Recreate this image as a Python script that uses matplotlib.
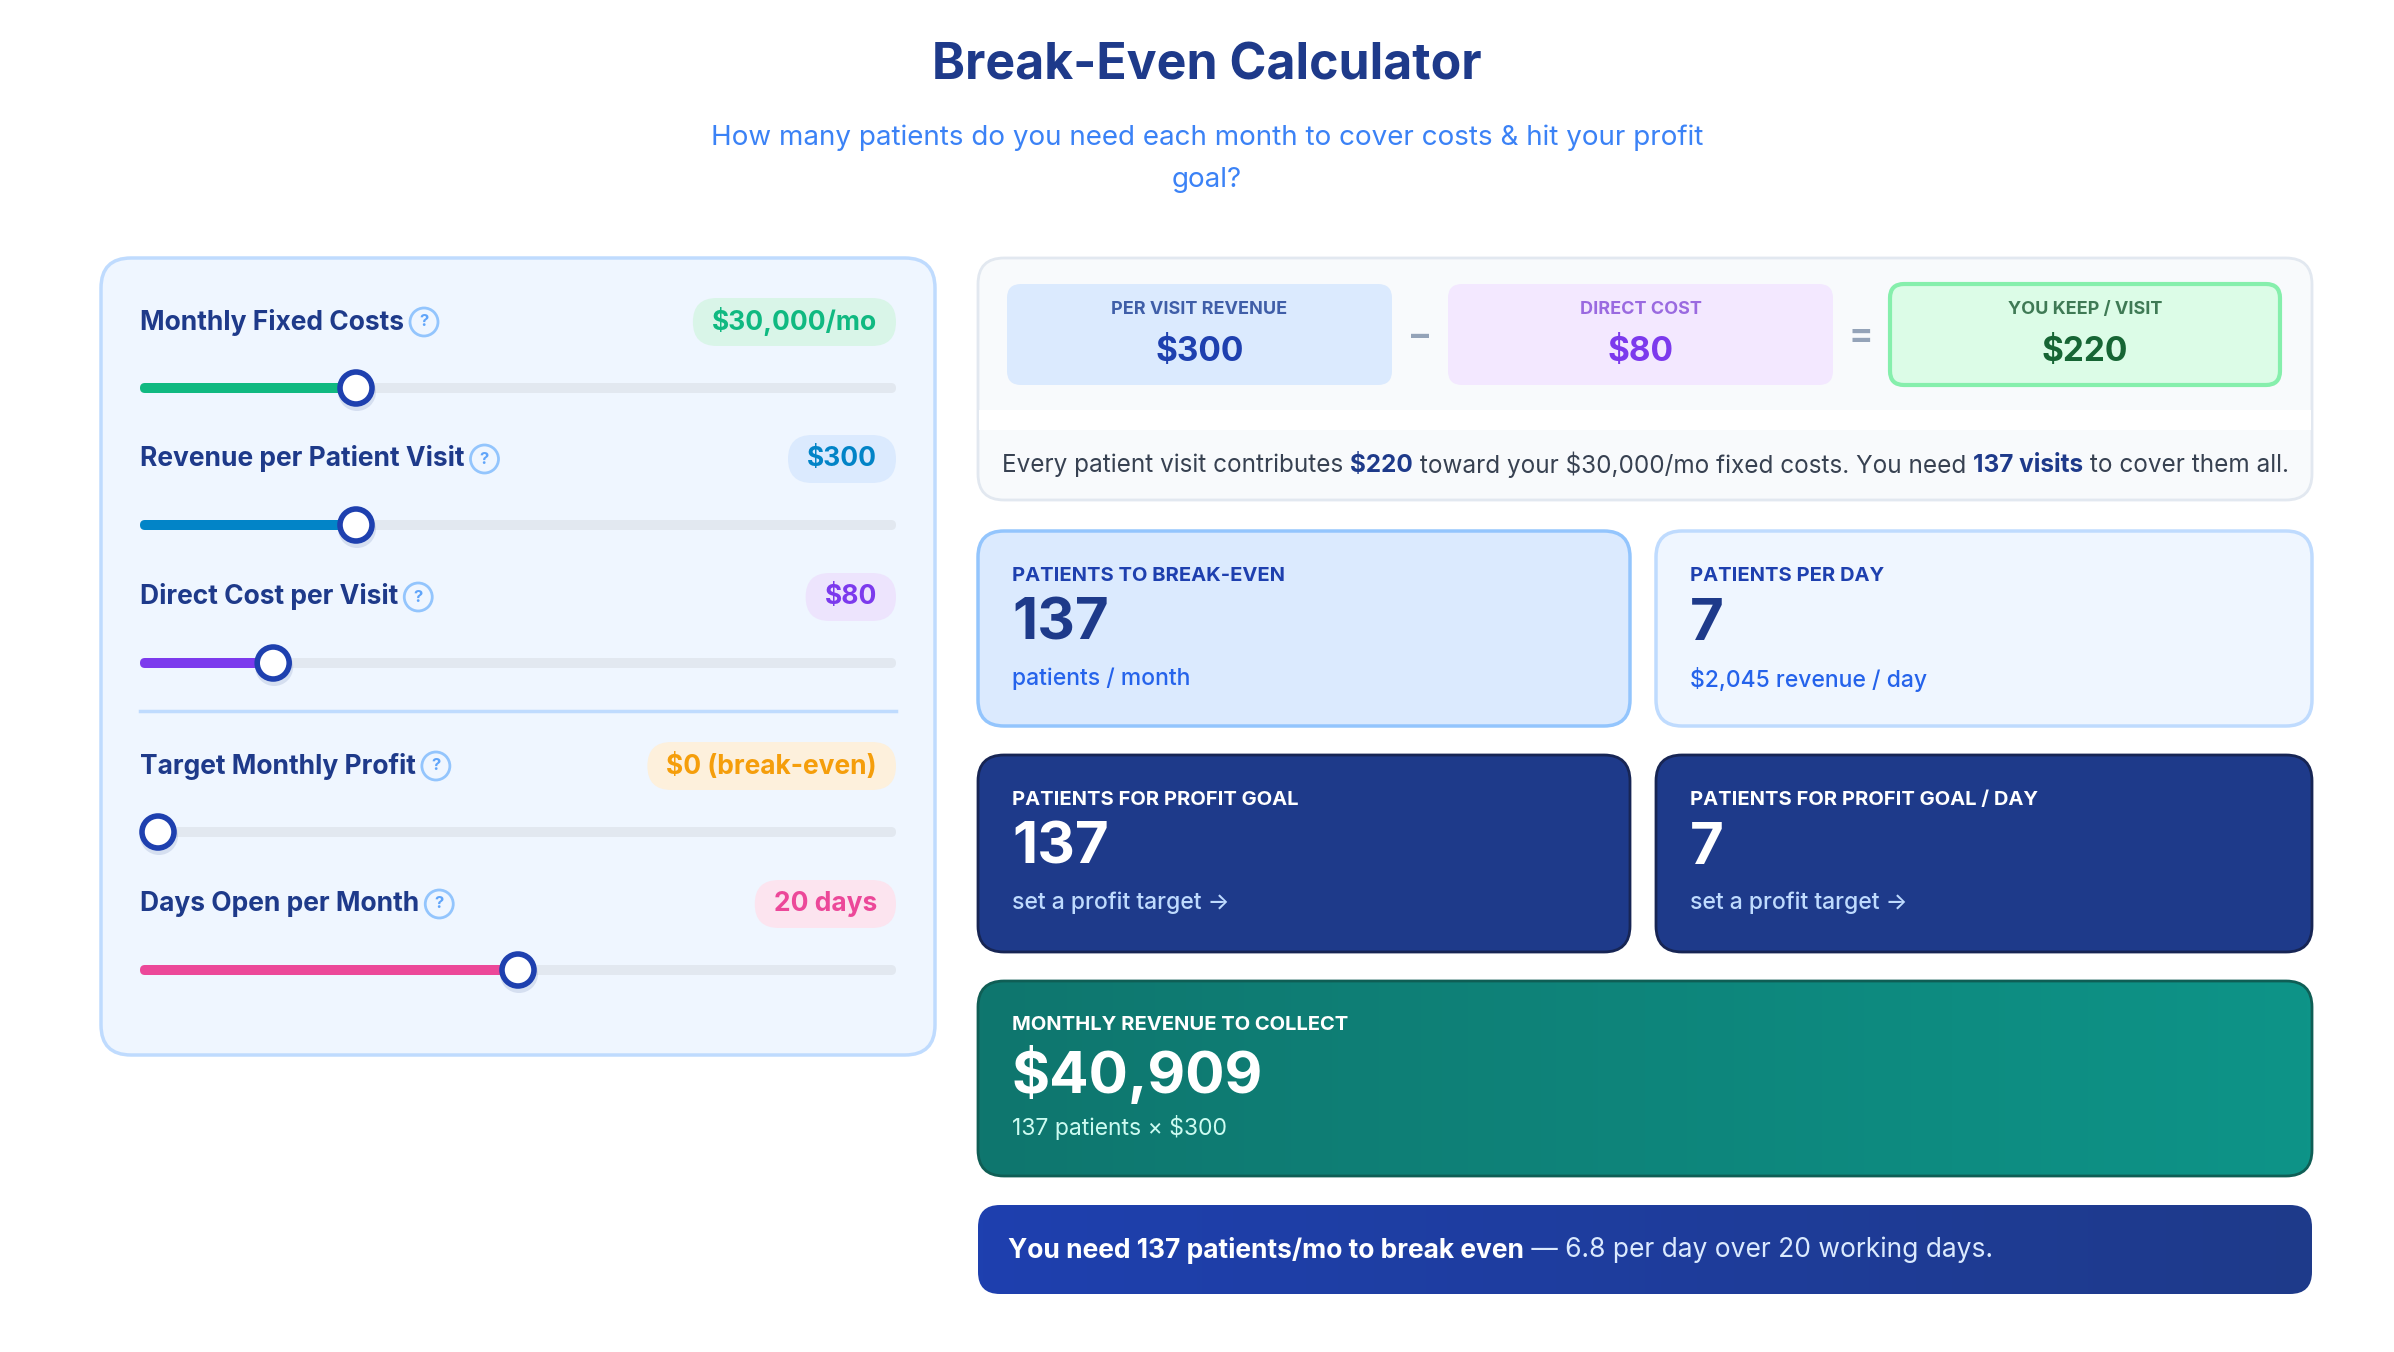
import numpy as np
import matplotlib
matplotlib.use("Agg")
import matplotlib.pyplot as plt
from matplotlib.patches import FancyBboxPatch, Circle

plt.rcParams["font.family"] = ["Inter", "DejaVu Sans"]

# ---- data ----
slider_labels = ["Monthly Fixed Costs", "Revenue per Patient Visit", "Direct Cost per Visit",
                 "Target Monthly Profit", "Days Open per Month"]
slider_values = ["$30,000/mo", "$300", "$80", "$0 (break-even)", "20 days"]
slider_fracs = [0.275, 0.275, 0.16, 0.0, 0.5]
slider_colors = ["#10b981", "#0284c7", "#7c3aed", "#f59e0b", "#ec4899"]
pill_bg = ["#d9f5e8", "#dbeafe", "#ede4fd", "#fdf0dc", "#fce4ef"]
pill_fg = ["#10b981", "#0284c7", "#7c3aed", "#f59e0b", "#ec4899"]

eq_labels = ["PER VISIT REVENUE", "DIRECT COST", "YOU KEEP / VISIT"]
eq_values = ["$300", "$80", "$220"]

stat_labels = ["PATIENTS TO BREAK-EVEN", "PATIENTS PER DAY",
               "PATIENTS FOR PROFIT GOAL", "PATIENTS FOR PROFIT GOAL / DAY"]
stat_values = ["137", "7", "137", "7"]
stat_subs = ["patients / month", "$2,045 revenue / day",
             "set a profit target \u2192", "set a profit target \u2192"]

fig = plt.figure(figsize=(23.94, 13.52), dpi=100)
ax = fig.add_axes([0, 0, 1, 1])
ax.set_xlim(0, 2394)
ax.set_ylim(1352, 0)
ax.axis("off")
R = fig.canvas.get_renderer()


def box(x0, y0, x1, y1, fc, ec="none", lw=0, r=22, z=1):
    p = FancyBboxPatch((x0, y0), x1 - x0, y1 - y0,
                       boxstyle=f"round,pad=0,rounding_size={r}",
                       fc=fc, ec=ec, lw=lw, zorder=z)
    ax.add_patch(p)
    return p


def rich(x, y, parts, size, z=5):
    """parts: list of (text, color, weight)"""
    for s, c, w in parts:
        t = ax.text(x, y, s, fontsize=size, color=c, fontweight=w, va="center", ha="left", zorder=z)
        x += t.get_window_extent(R).width


# ---- header ----
ax.text(1207, 66, "Break-Even Calculator", fontsize=36, fontweight="bold", color="#1e3a8a",
        ha="center", va="center")
ax.text(1207, 138, "How many patients do you need each month to cover costs & hit your profit",
        fontsize=20, color="#3b82f6", ha="center", va="center")
ax.text(1207, 180, "goal?", fontsize=20, color="#3b82f6", ha="center", va="center")

# ---- left panel ----
box(101, 258, 935, 1055, "#eff6ff", "#bfdbfe", 2.5, r=30)
label_y = [322, 459, 597, 766, 904]
track_x0, track_x1 = 140, 896
for i, lab in enumerate(slider_labels):
    ly = label_y[i]
    t = ax.text(140, ly, lab, fontsize=19, fontweight="bold", color="#1e3a8a", va="center", zorder=5)
    w = t.get_window_extent(R).width
    qx = 140 + w + 20
    ax.add_patch(Circle((qx, ly), 14, fc="#eff6ff", ec="#93c5fd", lw=2, zorder=5))
    ax.text(qx, ly, "?", fontsize=12, fontweight="bold", color="#60a5fa", ha="center", va="center", zorder=6)
    pv = ax.text(896 - 19, ly, slider_values[i], fontsize=19, fontweight="bold", color=pill_fg[i],
                 ha="right", va="center", zorder=6)
    pw = pv.get_window_extent(R).width
    box(896 - pw - 38, ly - 24, 896, ly + 24, pill_bg[i], r=24, z=4)
    ty = ly + 66
    box(track_x0, ty - 5, track_x1, ty + 5, "#e2e8f0", r=5, z=3)
    tx = track_x0 + slider_fracs[i] * (track_x1 - track_x0 - 36) + 18
    if slider_fracs[i] > 0:
        box(track_x0, ty - 5, tx, ty + 5, slider_colors[i], r=5, z=3)
    ax.add_patch(Circle((tx + 1, ty + 4), 19, fc="#1e3a8a", alpha=0.12, ec="none", zorder=4))
    ax.add_patch(Circle((tx, ty), 16, fc="white", ec="#1e40af", lw=4, zorder=5))
ax.plot([140, 896], [711, 711], color="#bfdbfe", lw=2.5, zorder=3)

# ---- equation panel ----
box(978, 258, 2312, 500, "#f8fafc", "#e2e8f0", 2, r=26)
ax.add_patch(plt.Rectangle((979, 410), 1332, 20, fc="white", ec="none", zorder=1.5))
eq_boxes = [(1007, 1392), (1448, 1833), (1890, 2280)]
eq_bg = ["#dbeafe", "#f3e8ff", "#dcfce7"]
eq_ec = ["none", "none", "#86efac"]
eq_lab_c = ["#3f5ea8", "#9a6ae0", "#3f7a55"]
eq_val_c = ["#1e40af", "#7c3aed", "#166534"]
for i, (x0, x1) in enumerate(eq_boxes):
    box(x0, 284, x1, 385, eq_bg[i], eq_ec[i], 3 if i == 2 else 0, r=14, z=2)
    cx = (x0 + x1) / 2
    ax.text(cx, 309, eq_labels[i], fontsize=13, fontweight="bold", color=eq_lab_c[i],
            ha="center", va="center", zorder=5)
    ax.text(cx, 352, eq_values[i], fontsize=24, fontweight="bold", color=eq_val_c[i],
            ha="center", va="center", zorder=5)
ax.text(1420, 337, "\u2013", fontsize=26, fontweight="bold", color="#94a3b8", ha="center", va="center")
ax.text(1861, 337, "=", fontsize=26, fontweight="bold", color="#94a3b8", ha="center", va="center")
rich(1002, 465, [("Every patient visit contributes ", "#374151", "normal"),
                 ("$220", "#1e3a8a", "bold"),
                 (" toward your $30,000/mo fixed costs. You need ", "#374151", "normal"),
                 ("137 visits", "#1e3a8a", "bold"),
                 (" to cover them all.", "#374151", "normal")], 17.5)

# ---- stat cards ----
cards = [(978, 531, 1630, 726), (1656, 531, 2312, 726), (978, 755, 1630, 952), (1656, 755, 2312, 952)]
for i, (x0, y0, x1, y1) in enumerate(cards):
    dark = i >= 2
    if dark:
        box(x0, y0, x1, y1, "#1e3a8a", "#172554", 2, r=26)
    else:
        box(x0, y0, x1, y1, "#dbeafe" if i == 0 else "#eff6ff", "#93c5fd" if i == 0 else "#bfdbfe", 2.5, r=26)
    tx = x0 + 34
    ax.text(tx, y0 + 45, stat_labels[i], fontsize=14.5, fontweight="bold",
            color="white" if dark else "#1e40af", va="center", zorder=5)
    ax.text(tx, y0 + 94, stat_values[i], fontsize=42, fontweight="bold",
            color="white" if dark else "#1e3a8a", va="center", zorder=5)
    ax.text(tx, y0 + 148, stat_subs[i], fontsize=16.5,
            color="#bfdbfe" if dark else "#2563eb", va="center", zorder=5,
            fontweight="medium")

# teal card with gradient
tp = box(978, 981, 2312, 1176, "none", "#0f5e55", 2, r=26, z=3)
grad = np.linspace(0, 1, 256).reshape(1, -1)
from matplotlib.colors import LinearSegmentedColormap
teal = LinearSegmentedColormap.from_list("teal", ["#0f766e", "#0d9488"])
im = ax.imshow(grad, cmap=teal, extent=(978, 2312, 1176, 981), aspect="auto", zorder=2)
im.set_clip_path(tp)
ax.text(1012, 1025, "MONTHLY REVENUE TO COLLECT", fontsize=14.5, fontweight="bold", color="white",
        va="center", zorder=5)
ax.text(1012, 1075, "$40,909", fontsize=42, fontweight="bold", color="white", va="center", zorder=5)
ax.text(1012, 1128, "137 patients \u00d7 $300", fontsize=16.5, color="#ccfbf1", va="center", zorder=5)

# bottom banner
bp = box(978, 1205, 2312, 1294, "none", r=22, z=3)
blue = LinearSegmentedColormap.from_list("blue", ["#1e40af", "#1e3a8a"])
im2 = ax.imshow(grad, cmap=blue, extent=(978, 2312, 1294, 1205), aspect="auto", zorder=2)
im2.set_clip_path(bp)
rich(1008, 1250, [("You need 137 patients/mo to break even", "white", "bold"),
                  (" \u2014 6.8 per day over 20 working days.", "#dbeafe", "normal")], 19)

fig.savefig("out.png", dpi=100, facecolor="white")
